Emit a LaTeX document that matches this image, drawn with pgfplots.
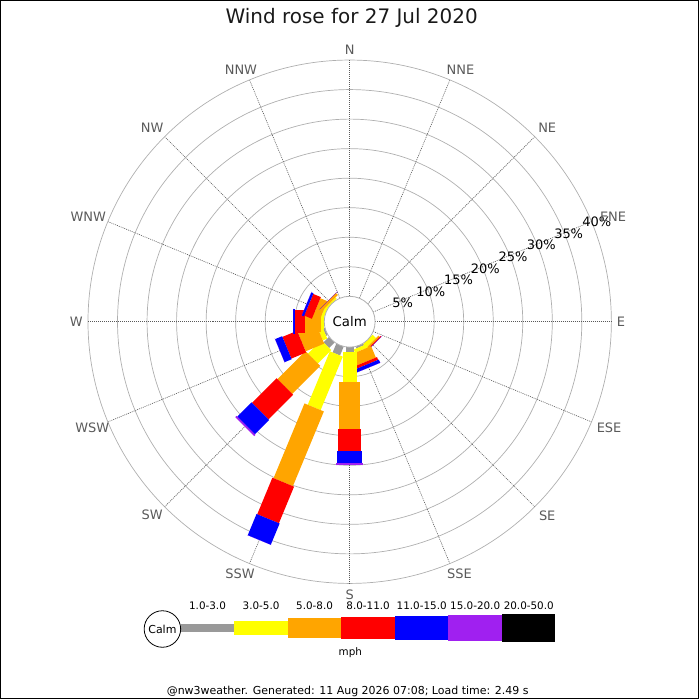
\documentclass[border=0pt]{standalone}
\usepackage{fontspec}
\setmainfont{DejaVu Sans}
\usepackage{pgfplots}
\pgfplotsset{compat=1.18}
\definecolor{wgray}{RGB}{153,153,153}
\definecolor{wyellow}{RGB}{255,255,0}
\definecolor{worange}{RGB}{255,165,0}
\definecolor{wred}{RGB}{255,0,0}
\definecolor{wblue}{RGB}{0,0,255}
\definecolor{wpurple}{RGB}{160,32,240}
\definecolor{wblack}{RGB}{0,0,0}
\definecolor{gridc}{RGB}{175,175,175}
\definecolor{labc}{RGB}{90,90,90}

% radius in px for a cumulative percentage: 25.5 + 5.92*p
% \wseg{angle}{p0}{p1}{full width}{colour}
\newcommand\wseg[5]{%
  \pgfmathsetmacro\wra{25.5+5.92*(#2)}%
  \pgfmathsetmacro\wrb{25.5+5.92*(#3)}%
  \pgfmathsetmacro\wsn{sin(#1)}%
  \pgfmathsetmacro\wcs{cos(#1)}%
  \pgfmathsetmacro\whw{(#4)/2}%
  \pgfmathsetmacro\wxa{\wra*\wsn+\whw*\wcs}\pgfmathsetmacro\wya{\wra*\wcs-\whw*\wsn}%
  \pgfmathsetmacro\wxb{\wrb*\wsn+\whw*\wcs}\pgfmathsetmacro\wyb{\wrb*\wcs-\whw*\wsn}%
  \pgfmathsetmacro\wxc{\wrb*\wsn-\whw*\wcs}\pgfmathsetmacro\wyc{\wrb*\wcs+\whw*\wsn}%
  \pgfmathsetmacro\wxd{\wra*\wsn-\whw*\wcs}\pgfmathsetmacro\wyd{\wra*\wcs+\whw*\wsn}%
  \edef\wtemp{\noexpand\addplot[fill=#5,draw=none,forget plot,mark=none]
     coordinates {(\wxa,\wya) (\wxb,\wyb) (\wxc,\wyc) (\wxd,\wyd)};}%
  \wtemp
}
% \windbar{compass angle}{1-3}{3-5}{5-8}{8-11}{11-15}{15-20}  (percent)
\newcommand\windbar[7]{%
  \pgfmathsetmacro\wcA{#2}%
  \pgfmathsetmacro\wcB{\wcA+#3}%
  \pgfmathsetmacro\wcC{\wcB+#4}%
  \pgfmathsetmacro\wcD{\wcC+#5}%
  \pgfmathsetmacro\wcE{\wcD+#6}%
  \pgfmathsetmacro\wcF{\wcE+#7}%
  \wseg{#1}{0}{\wcA}{8}{wgray}%
  \wseg{#1}{\wcA}{\wcB}{14}{wyellow}%
  \wseg{#1}{\wcB}{\wcC}{21}{worange}%
  \wseg{#1}{\wcC}{\wcD}{23.5}{wred}%
  \wseg{#1}{\wcD}{\wcE}{25}{wblue}%
  \wseg{#1}{\wcE}{\wcF}{27}{wpurple}%
}

\begin{document}
\begin{tikzpicture}
\begin{axis}[
  width=700pt, height=700pt, scale only axis,
  xmin=-350, xmax=350, ymin=-378, ymax=322,
  xtick=\empty, ytick=\empty,
  axis line style={line width=1pt, black},
  clip=false,
]
% grid circles
\pgfplotsinvokeforeach{1,...,8}{
  \draw[gridc, line width=0.7pt] (axis cs:0,0) circle[radius={25.5+29.6*#1}];
}
% radial lines
\pgfplotsinvokeforeach{0,22.5,...,337.5}{
  \draw[black!65, line width=0.6pt, dash pattern=on 1pt off 1pt]
    (axis cs:{25.5*sin(#1)},{25.5*cos(#1)}) -- (axis cs:{262*sin(#1)},{262*cos(#1)});
}

% ---- data: percent of time per speed band (mph) ----
\windbar{135}{0}{0.8}{0.3}{0.2}{0}{0}
\windbar{157.5}{0.3}{0.6}{2.1}{0.5}{0.6}{0}
\windbar{180}{0.76}{5.2}{7.9}{3.8}{2.0}{0.3}
\windbar{202.5}{1.6}{9.8}{13.7}{6.7}{3.9}{0}
\windbar{225}{1.3}{3.2}{6.7}{5.9}{3.4}{0.3}
\windbar{247.5}{0.3}{0.8}{3.4}{2.7}{1.3}{0}
\windbar{270}{0}{0.5}{2.8}{1.7}{0.3}{0}
\windbar{292.5}{0}{0.5}{1.3}{1.4}{0.4}{0}
\windbar{315}{0}{0.3}{0.5}{0}{0}{0}

% calm circle
\draw[fill=white, draw=gridc, line width=0.8pt] (axis cs:0,0) circle[radius=25.5];
\node[font=\fontsize{13.3}{15}\selectfont] at (axis cs:0,0) {Calm};

% percent labels
\begin{scope}[every node/.style={font=\fontsize{13}{15}\selectfont}]
\node at (axis cs:53,19) {5\%};
\node at (axis cs:81.4,30) {10\%};
\node at (axis cs:109,42.5) {15\%};
\node at (axis cs:136,53.4) {20\%};
\node at (axis cs:163.7,65.3) {25\%};
\node at (axis cs:192,77) {30\%};
\node at (axis cs:219.5,88) {35\%};
\node at (axis cs:247.7,100) {40\%};
\end{scope}

% compass labels
\begin{scope}[every node/.style={text=labc, font=\fontsize{13}{15}\selectfont}]
\node at (axis cs:0,273) {N};
\node at (axis cs:111,253) {NNE};
\node at (axis cs:198,194) {NE};
\node at (axis cs:264,105) {ENE};
\node at (axis cs:272,0) {E};
\node at (axis cs:260,-106) {ESE};
\node at (axis cs:198,-195) {SE};
\node at (axis cs:110,-253) {SSE};
\node at (axis cs:0,-274) {S};
\node at (axis cs:-110,-253) {SSW};
\node at (axis cs:-198,-194) {SW};
\node at (axis cs:-258,-106) {WSW};
\node at (axis cs:-274,0) {W};
\node at (axis cs:-262,105) {WNW};
\node at (axis cs:-198,194) {NW};
\node at (axis cs:-109,253) {NNW};
\end{scope}

% title
\node[font=\fontsize{20}{24}\selectfont, text=black!90] at (axis cs:2,305) {Wind rose for 27 Jul 2020};

% legend
\addplot[fill=wgray,draw=none,forget plot] coordinates {(-169.3,-303) (-115.6,-303) (-115.6,-311) (-169.3,-311)};
\addplot[fill=wyellow,draw=none,forget plot] coordinates {(-115.6,-300) (-62.0,-300) (-62.0,-314) (-115.6,-314)};
\addplot[fill=worange,draw=none,forget plot] coordinates {(-62.0,-297) (-8.3,-297) (-8.3,-317) (-62.0,-317)};
\addplot[fill=wred,draw=none,forget plot] coordinates {(-8.3,-295.5) (45.3,-295.5) (45.3,-318.5) (-8.3,-318.5)};
\addplot[fill=wblue,draw=none,forget plot] coordinates {(45.3,-294.5) (99.0,-294.5) (99.0,-319.5) (45.3,-319.5)};
\addplot[fill=wpurple,draw=none,forget plot] coordinates {(99.0,-293.5) (152.7,-293.5) (152.7,-320.5) (99.0,-320.5)};
\addplot[fill=wblack,draw=none,forget plot] coordinates {(152.7,-292.5) (206.3,-292.5) (206.3,-321.5) (152.7,-321.5)};
\draw[black, line width=0.8pt, fill=white] (axis cs:-187.7,-308) circle[radius=18.3];
\node[font=\fontsize{11}{13}\selectfont] at (axis cs:-187.7,-308) {Calm};
\begin{scope}[every node/.style={font=\fontsize{10.4}{12}\selectfont}]
\node at (axis cs:-142.5,-284.7) {1.0-3.0};
\node at (axis cs:-88.8,-284.7) {3.0-5.0};
\node at (axis cs:-35.2,-284.7) {5.0-8.0};
\node at (axis cs:18.5,-284.7) {8.0-11.0};
\node at (axis cs:72.2,-284.7) {11.0-15.0};
\node at (axis cs:125.8,-284.7) {15.0-20.0};
\node at (axis cs:179.5,-284.7) {20.0-50.0};
\node at (axis cs:0.7,-332) {mph};
\end{scope}
\node[font=\fontsize{11}{13}\selectfont] at (axis cs:-2,-370.5) {@nw3weather. Generated: 11 Aug 2026 07:08; Load time: 2.49 s};
\end{axis}
\end{tikzpicture}
\end{document}
